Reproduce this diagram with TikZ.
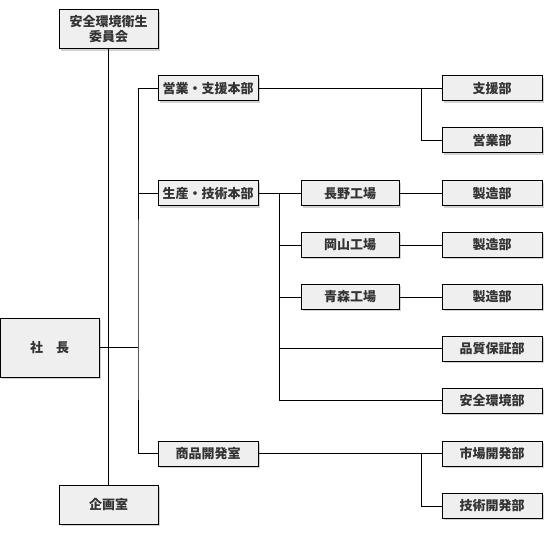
\documentclass[tikz,border=0pt]{standalone}
\usepackage{fontspec}
\setmainfont{Noto Sans CJK JP}
\usetikzlibrary{shadows,calc}
\definecolor{paper}{HTML}{FFFFFF}
\definecolor{ink}{HTML}{000000}
\definecolor{boxfill}{HTML}{EFEFEF}
\definecolor{label}{HTML}{333333}
\newcommand{\HQX}{208}
\newcommand{\FacX}{350}
\newcommand{\DeptX}{492}
\newcommand{\BusX}{138}
\newcommand{\FacBusX}{279}
\newcommand{\SplitX}{421}

\begin{document}
\begin{tikzpicture}[
    x=1pt, y=-1pt,
    font=\bfseries\fontsize{13}{15}\selectfont,
    link/.style={draw=ink, line width=1pt},
    unit/.style={draw=ink, line width=1pt, fill=boxfill, text=label, inner sep=0pt,
      minimum width=100pt, minimum height=25pt, align=center,
      drop shadow={shadow xshift=1.6pt, shadow yshift=-1.6pt, fill=black!35}},
    big/.style={unit, minimum width=99pt, minimum height=39pt},
  ]
\useasboundingbox[fill=paper] (0,0) rectangle (546,540);

% --- Left column: president, committee, planning ---------------------------
\node[big] (committee) at (108.5, 29.5) {安全環境衛生\\委員会};
\node[big, minimum height=59pt] (pres) at (49.5, 347.5) {社　長};
\node[big] (planning) at (108.5, 504.5) {企画室};

% --- Headquarters ------------------------------------------------------------
\node[unit] (sales) at (\HQX, 88.5) {営業・支援本部};
\node[unit] (prod) at (\HQX, 193.5) {生産・技術本部};
\node[unit] (dev) at (\HQX, 453.5) {商品開発室};

% --- Factories ---------------------------------------------------------------
\foreach \name/\what/\y in {nagano/長野工場/193.5, okayama/岡山工場/245, aomori/青森工場/297} {
  \node[unit, minimum width=98pt] (\name) at (\FacX, \y) {\what};
}

% --- Departments ---------------------------------------------------------------
\node[unit] (support) at (\DeptX, 88.5) {支援部};
\node[unit] (eigyo) at (\DeptX, 140.5) {営業部};
\foreach \i/\y in {1/193.5, 2/245, 3/297} {
  \node[unit] (mfg\i) at (\DeptX, \y) {製造部};
}
\node[unit] (quality) at (\DeptX, 348.5) {品質保証部};
\node[unit] (safety) at (\DeptX, 400.5) {安全環境部};
\node[unit] (market) at (\DeptX, 453.5) {市場開発部};
\node[unit] (tech) at (\DeptX, 506) {技術開発部};

% --- Junctions -----------------------------------------------------------------
\coordinate (jbus) at (\BusX, 347.5);
\coordinate (jsales) at (\SplitX, 88.5);
\coordinate (jprod) at (\FacBusX, 193.5);
\coordinate (jdev) at (\SplitX, 453.5);

% --- Connectors ----------------------------------------------------------------
\draw[link] (committee.south) -- (planning.north);
\draw[link] (pres.east) -- (jbus);
\draw[link] (sales.west) -| (jbus) |- (dev.west);
\draw[link] (prod.west) -- (prod.west -| jbus);

\draw[link] (sales.east) -- (support.west);
\draw[link] (jsales) |- (eigyo.west);

\draw[link] (prod.east) -- (nagano.west);
\draw[link] (jprod) |- (safety.west);
\foreach \to in {okayama, aomori, quality} {
  \draw[link] (jprod |- \to.west) -- (\to.west);
}
\draw[link] (nagano.east) -- (mfg1.west);
\draw[link] (okayama.east) -- (mfg2.west);
\draw[link] (aomori.east) -- (mfg3.west);

\draw[link] (dev.east) -- (market.west);
\draw[link] (jdev) |- (tech.west);

\end{tikzpicture}
\end{document}
